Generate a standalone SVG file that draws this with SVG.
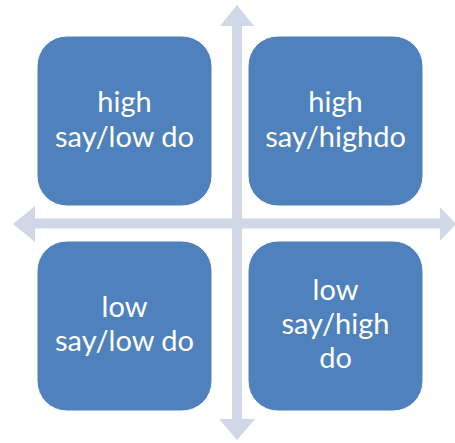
<svg xmlns="http://www.w3.org/2000/svg" width="455" height="443" viewBox="0 0 455 443">
  <style>
    .axis { fill: #D0D8E8; }
    .box { fill: #4F81BD; stroke: #ffffff; stroke-width: 1; }
    .label { fill: #ffffff; font-family: Lato, "Open Sans", "Liberation Sans", sans-serif; font-size: 29px; text-anchor: middle; }
  </style>
  <rect width="455" height="443" fill="#ffffff"/>
  <g id="connectors">
    <!-- vertical double arrow -->
    <polygon class="axis" points="237,5 254,26 242,26 242,419 255,419 237,440 219,419 232,419 232,26 220,26"/>
    <!-- horizontal double arrow -->
    <polygon class="axis" points="13,224 35,206 35,218.5 440,218.5 440,207 456,224 440,241 440,228.5 35,228.5 35,242"/>
  </g>
  <g id="high-say-low-do">
    <rect class="box" x="37" y="36" width="175" height="170" rx="30" ry="30"/>
    <text class="label" x="124.5" y="112">high</text>
    <text class="label" x="124.5" y="147">say/low do</text>
  </g>
  <g id="high-say-high-do">
    <rect class="box" x="248" y="36" width="175" height="170" rx="30" ry="30"/>
    <text class="label" x="335.5" y="112">high</text>
    <text class="label" x="335.5" y="147">say/highdo</text>
  </g>
  <g id="low-say-low-do">
    <rect class="box" x="37" y="241" width="175" height="170" rx="30" ry="30"/>
    <text class="label" x="124.5" y="317">low</text>
    <text class="label" x="124.5" y="351">say/low do</text>
  </g>
  <g id="low-say-high-do">
    <rect class="box" x="248" y="241" width="175" height="170" rx="30" ry="30"/>
    <text class="label" x="335.5" y="300">low</text>
    <text class="label" x="335.5" y="334">say/high</text>
    <text class="label" x="335.5" y="368">do</text>
  </g>
</svg>
